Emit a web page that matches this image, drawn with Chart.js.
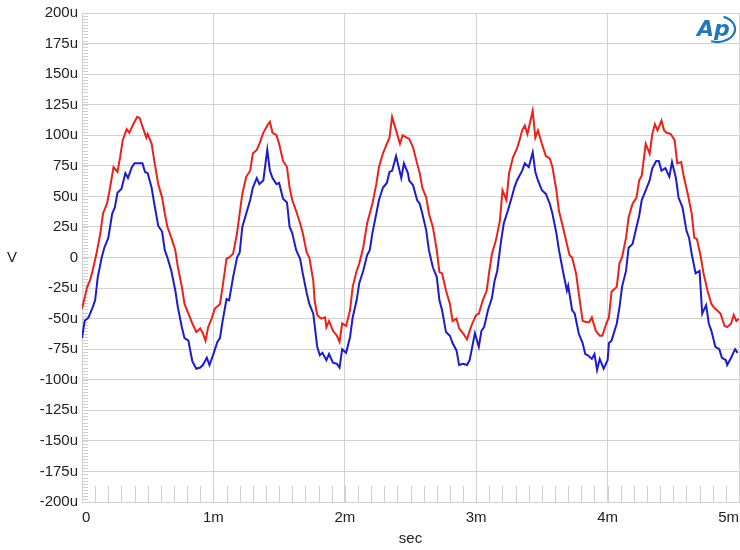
<!DOCTYPE html>
<html>
<head>
<meta charset="utf-8">
<script src="https://cdn.jsdelivr.net/npm/chart.js@4.4.1/dist/chart.umd.min.js"></script>
<style>
  body { margin: 0; background: #fff; }
  canvas { display: block; }
</style>
</head>
<body>
<canvas id="apChart" width="740" height="550"></canvas>
<script>
// Time axis in ms, values in microvolts (u)
const redT = [
  0.00, 0.04, 0.06, 0.08, 0.11, 0.14, 0.16, 0.19, 0.21, 0.24,
  0.27, 0.29, 0.31, 0.34, 0.36, 0.39, 0.42, 0.44, 0.46, 0.49,
  0.50, 0.53, 0.55, 0.58, 0.61, 0.63, 0.65, 0.68, 0.71, 0.73,
  0.76, 0.78, 0.81, 0.84, 0.87, 0.90, 0.92, 0.94, 0.96, 0.99,
  1.01, 1.05, 1.07, 1.10, 1.12, 1.15, 1.18, 1.20, 1.22, 1.25,
  1.28, 1.30, 1.33, 1.35, 1.38, 1.41, 1.43, 1.45, 1.48, 1.50,
  1.53, 1.56, 1.58, 1.60, 1.63, 1.66, 1.68, 1.71, 1.73, 1.76,
  1.77, 1.79, 1.82, 1.85, 1.86, 1.88, 1.91, 1.94, 1.96, 1.98,
  2.01, 2.04, 2.06, 2.09, 2.11, 2.14, 2.17, 2.19, 2.21, 2.24,
  2.26, 2.29, 2.32, 2.34, 2.36, 2.39, 2.42, 2.44, 2.47, 2.49,
  2.52, 2.55, 2.57, 2.59, 2.62, 2.64, 2.67, 2.70, 2.72, 2.74,
  2.77, 2.80, 2.82, 2.85, 2.87, 2.90, 2.93, 2.95, 2.97,
  3.00, 3.02, 3.05, 3.08, 3.10, 3.12, 3.15, 3.18, 3.20, 3.23,
  3.25, 3.28, 3.31, 3.33, 3.35, 3.37, 3.39, 3.43, 3.45, 3.47,
  3.50, 3.53, 3.56, 3.58, 3.61, 3.63, 3.66, 3.69, 3.71, 3.73,
  3.76, 3.78, 3.81, 3.84, 3.86, 3.88, 3.91, 3.94, 3.96, 3.99,
  4.01, 4.03, 4.07, 4.09, 4.11, 4.14, 4.16, 4.19, 4.22, 4.24,
  4.26, 4.29, 4.32, 4.34, 4.36, 4.38, 4.41, 4.43, 4.45, 4.48,
  4.51, 4.53, 4.56, 4.58, 4.61, 4.64, 4.66, 4.68, 4.71, 4.73,
  4.76, 4.79, 4.81, 4.83, 4.86, 4.89, 4.91, 4.94, 4.96, 4.98, 5.00
];
const redV = [
  -42, -24, -19, -11, 3, 20, 36, 44, 55, 74,
  70, 82, 96, 105, 102, 109, 115, 114, 107, 98,
  101, 93, 79, 60, 49, 36, 25, 16, 6, -8,
  -24, -38, -46, -54, -61, -58, -62, -68, -57, -49,
  -42, -38, -24, -1, 0, 3, 20, 36, 52, 66,
  71, 85, 88, 93, 102, 108, 111, 102, 100, 93,
  79, 74, 57, 47, 38, 28, 20, 4, 0, -19,
  -35, -47, -50, -49, -57, -52, -60, -64, -69, -54,
  -56, -43, -24, -11, -5, 8, 28, 36, 44, 60,
  74, 85, 93, 98, 115, 104, 93, 100, 98, 97,
  90, 77, 69, 57, 49, 36, 25, 6, -12, -13,
  -27, -38, -52, -50, -58, -62, -67, -60, -54,
  -47, -46, -35, -27, -11, 3, 14, 30, 55, 47,
  69, 82, 89, 96, 104, 108, 101, 120, 98, 104,
  93, 83, 81, 74, 55, 38, 25, 11, 2, 0,
  -13, -29, -52, -53, -53, -49, -60, -64, -64, -54,
  -49, -28, -24, -5, 0, 16, 33, 44, 49, 63,
  67, 93, 85, 101, 109, 104, 112, 104, 102, 101,
  96, 77, 78, 66, 52, 36, 16, 15, 0, -13,
  -27, -38, -41, -43, -46, -56, -57, -54, -47, -52, -50
];

const blueT = [
  0.00, 0.02, 0.05, 0.08, 0.10, 0.12, 0.15, 0.17, 0.20, 0.23,
  0.25, 0.27, 0.30, 0.33, 0.35, 0.38, 0.40, 0.43, 0.46, 0.48,
  0.50, 0.53, 0.55, 0.58, 0.61, 0.63, 0.65, 0.68, 0.71, 0.73,
  0.76, 0.78, 0.81, 0.82, 0.84, 0.87, 0.90, 0.92, 0.95, 0.97,
  1.00, 1.03, 1.05, 1.07, 1.10, 1.12, 1.15, 1.18, 1.20, 1.22,
  1.25, 1.28, 1.30, 1.33, 1.35, 1.38, 1.41, 1.43, 1.45, 1.48,
  1.50, 1.53, 1.56, 1.58, 1.60, 1.63, 1.66, 1.68, 1.71, 1.73,
  1.76, 1.79, 1.81, 1.83, 1.86, 1.88, 1.91, 1.94, 1.96, 1.98,
  2.01, 2.04, 2.06, 2.09, 2.11, 2.14, 2.17, 2.19, 2.21, 2.24,
  2.26, 2.29, 2.32, 2.34, 2.36, 2.39, 2.41, 2.43, 2.45, 2.48,
  2.49, 2.52, 2.55, 2.57, 2.59, 2.62, 2.64, 2.67, 2.70, 2.72,
  2.74, 2.77, 2.80, 2.82, 2.85, 2.87, 2.90, 2.93, 2.95, 2.97, 2.99,
  3.02, 3.04, 3.06, 3.09, 3.12, 3.14, 3.16, 3.19, 3.21, 3.24,
  3.27, 3.29, 3.31, 3.35, 3.37, 3.40, 3.43, 3.45, 3.47, 3.50,
  3.53, 3.56, 3.58, 3.61, 3.63, 3.66, 3.69, 3.70, 3.73, 3.75,
  3.78, 3.81, 3.83, 3.85, 3.88, 3.90, 3.92, 3.94, 3.97, 4.00,
  4.01, 4.03, 4.07, 4.09, 4.11, 4.14, 4.16, 4.19, 4.22, 4.24,
  4.26, 4.29, 4.32, 4.34, 4.37, 4.39, 4.41, 4.44, 4.47, 4.49,
  4.52, 4.54, 4.57, 4.60, 4.62, 4.64, 4.67, 4.70, 4.72, 4.75,
  4.77, 4.79, 4.82, 4.85, 4.87, 4.90, 4.91, 4.94, 4.97, 4.99
];
const blueV = [
  -66, -52, -49, -41, -35, -16, 0, 8, 16, 36,
  41, 53, 56, 69, 65, 74, 77, 77, 77, 70,
  69, 57, 44, 26, 21, 6, 0, -11, -27, -41,
  -57, -66, -68, -74, -85, -91, -90, -88, -82, -88,
  -79, -69, -66, -52, -34, -35, -16, 0, 4, 25,
  36, 47, 57, 65, 60, 63, 88, 71, 65, 60,
  61, 48, 45, 25, 20, 6, -1, -13, -29, -38,
  -46, -73, -80, -78, -84, -79, -86, -87, -90, -75,
  -78, -65, -49, -35, -21, -11, 2, 6, 20, 36,
  47, 57, 61, 70, 71, 83, 74, 65, 77, 69,
  63, 59, 47, 44, 36, 22, 6, -8, -16, -35,
  -43, -61, -64, -70, -76, -88, -87, -88, -84, -73, -62,
  -73, -60, -57, -43, -33, -19, -11, 14, 28, 38,
  49, 57, 63, 71, 77, 74, 86, 70, 63, 55,
  52, 44, 36, 20, 6, -11, -27, -23, -43, -46,
  -62, -70, -79, -80, -83, -79, -92, -83, -91, -84,
  -70, -68, -54, -41, -24, -11, 8, 11, 25, 34,
  47, 55, 63, 73, 79, 79, 71, 73, 66, 78,
  65, 49, 41, 22, 16, 3, -13, -11, -46, -39,
  -54, -60, -73, -75, -82, -84, -88, -82, -75, -78
];

const xTicks = [0, 1, 2, 3, 4, 5];          // ms
const yMin = -200, yMax = 200, yStep = 25;  // u

const gridColor = '#d2d2d2';
const textColor = '#222';
const fontFamily = '"Liberation Sans", Arial, sans-serif';

function toPoints(ts, vs) {
    return ts.map((t, i) => ({ x: t, y: vs[i] }));
}

// Minor ticks, axis letter and the AP badge
const apDecor = {
    id: 'apDecor',
    beforeDatasetsDraw(chart) {
        const { ctx, chartArea, scales } = chart;
        ctx.save();
        ctx.strokeStyle = '#cfcfcf';
        ctx.lineWidth = 1;
        ctx.beginPath();
        for (let v = yMin; v <= yMax; v += 2.5) {
            const y = Math.round(scales.y.getPixelForValue(v)) + 0.5;
            ctx.moveTo(chartArea.left, y);
            ctx.lineTo(chartArea.left + 6, y);
        }
        for (let k = 1; k < 50; k++) {
            const x = Math.round(scales.x.getPixelForValue(k / 10)) + 0.5;
            ctx.moveTo(x, chartArea.bottom);
            ctx.lineTo(x, chartArea.bottom - 16);
        }
        ctx.stroke();
        ctx.restore();
    },
    afterDraw(chart) {
        const { ctx, chartArea } = chart;
        ctx.save();
        // upright "V" axis label
        ctx.fillStyle = textColor;
        ctx.font = '15px ' + fontFamily;
        ctx.textAlign = 'center';
        ctx.textBaseline = 'middle';
        ctx.fillText('V', 12, (chartArea.top + chartArea.bottom) / 2);
        // AP logo
        ctx.fillStyle = '#2277b8';
        ctx.strokeStyle = '#2277b8';
        ctx.font = 'italic bold 22px "DejaVu Sans", sans-serif';
        ctx.textAlign = 'left';
        ctx.fillText('Ap', 697, 30);
        ctx.lineWidth = 2.2;
        ctx.beginPath();
        ctx.ellipse(717, 29, 18, 13, 0, -1.2, 1.9);
        ctx.stroke();
        ctx.restore();
    }
};

const ctx = document.getElementById('apChart');
new Chart(ctx, {
    type: 'line',
    data: {
        datasets: [
            {
                label: 'Ch2',
                data: toPoints(blueT, blueV),
                borderColor: '#1c1cc8',
                borderWidth: 2,
                pointRadius: 0,
                tension: 0
            },
            {
                label: 'Ch1',
                data: toPoints(redT, redV),
                borderColor: '#e8231c',
                borderWidth: 2,
                pointRadius: 0,
                tension: 0
            }
        ]
    },
    options: {
        responsive: false,
        animation: false,
        layout: { padding: { top: 13, right: 1, left: 0, bottom: 0 } },
        plugins: {
            legend: { display: false },
            tooltip: { enabled: false }
        },
        scales: {
            x: {
                type: 'linear',
                min: 0,
                max: 5,
                afterBuildTicks: scale => {
                    scale.ticks = xTicks.map(v => ({ value: v }));
                },
                afterFit: scale => {
                    scale.height = 48;
                    scale.paddingLeft = 0;
                    scale.paddingRight = 0;
                },
                grid: { color: gridColor, drawTicks: false },
                border: { color: gridColor },
                ticks: {
                    align: 'inner',
                    padding: 7,
                    color: textColor,
                    font: { family: fontFamily, size: 15 },
                    callback: v => (v === 0 ? '0' : v + 'm')
                },
                title: {
                    display: true,
                    text: 'sec',
                    color: textColor,
                    font: { family: fontFamily, size: 15 },
                    padding: { top: 0, bottom: 2 }
                }
            },
            y: {
                min: yMin,
                max: yMax,
                afterFit: scale => { scale.width = 82; },
                grid: { color: gridColor, drawTicks: false },
                border: { color: gridColor },
                ticks: {
                    stepSize: yStep,
                    padding: 4,
                    color: textColor,
                    font: { family: fontFamily, size: 15 },
                    callback: v => (v === 0 ? '0' : v + 'u')
                }
            }
        }
    },
    plugins: [apDecor]
});
</script>
</body>
</html>
